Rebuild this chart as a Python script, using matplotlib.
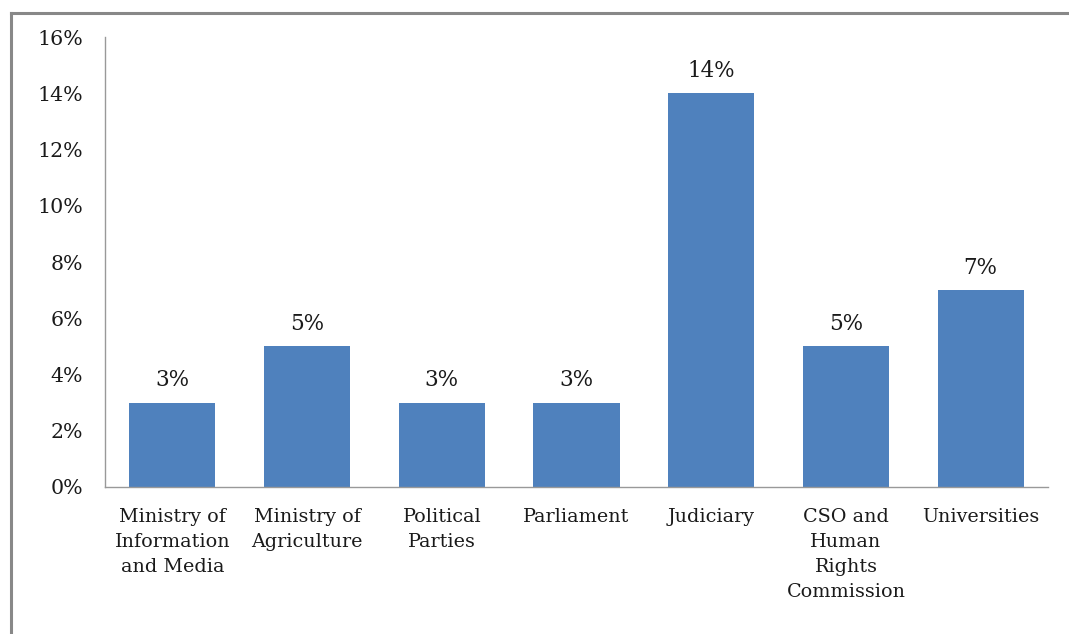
import matplotlib.pyplot as plt
from matplotlib.lines import Line2D
from matplotlib.ticker import FuncFormatter

categories = ["Ministry of\nInformation\nand Media", "Ministry of\nAgriculture",
              "Political\nParties", "Parliament", "Judiciary",
              "CSO and\nHuman\nRights\nCommission", "Universities"]
shares = [3, 5, 3, 3, 14, 5, 7]
yticks = [0, 2, 4, 6, 8, 10, 12, 14, 16]

plt.rcParams['font.family'] = ['DejaVu Serif']

fig = plt.figure(figsize=(10.69, 6.34), dpi=100)
ax = fig.add_axes([0.0982, 0.2319, 0.8822, 0.7097])

x = list(range(len(categories)))
bars = ax.bar(x, shares, width=0.64, color='#4F81BD')
for b, v in zip(bars, shares):
    ax.text(b.get_x() + b.get_width() / 2, v + 0.4, f'{v}%',
            ha='center', va='bottom', fontsize=15.5, color='#1a1a1a')

ax.set_xlim(-0.5, len(categories) - 0.5)
ax.set_ylim(0, 16)
ax.set_yticks(yticks)
ax.yaxis.set_major_formatter(FuncFormatter(lambda v, p: f'{v:.0f}%'))
ax.set_xticks(x)
ax.set_xticklabels(categories, fontsize=13.8, linespacing=1.5, color='#1a1a1a')
ax.tick_params(axis='y', labelsize=14.8, labelcolor='#1a1a1a', length=0, pad=16)
ax.tick_params(axis='x', length=0, pad=15)
for s in ['top', 'right']:
    ax.spines[s].set_visible(False)
for s in ['left', 'bottom']:
    ax.spines[s].set_color('#999999')
    ax.spines[s].set_linewidth(1.0)

# grey frame around the chart area
fig.add_artist(Line2D([0.0103, 1.0], [0.9795, 0.9795], color='#888888', lw=2.2))
fig.add_artist(Line2D([0.0103, 0.0103], [0.0, 0.9795], color='#888888', lw=2.2))

fig.savefig('out.png', dpi=100)
